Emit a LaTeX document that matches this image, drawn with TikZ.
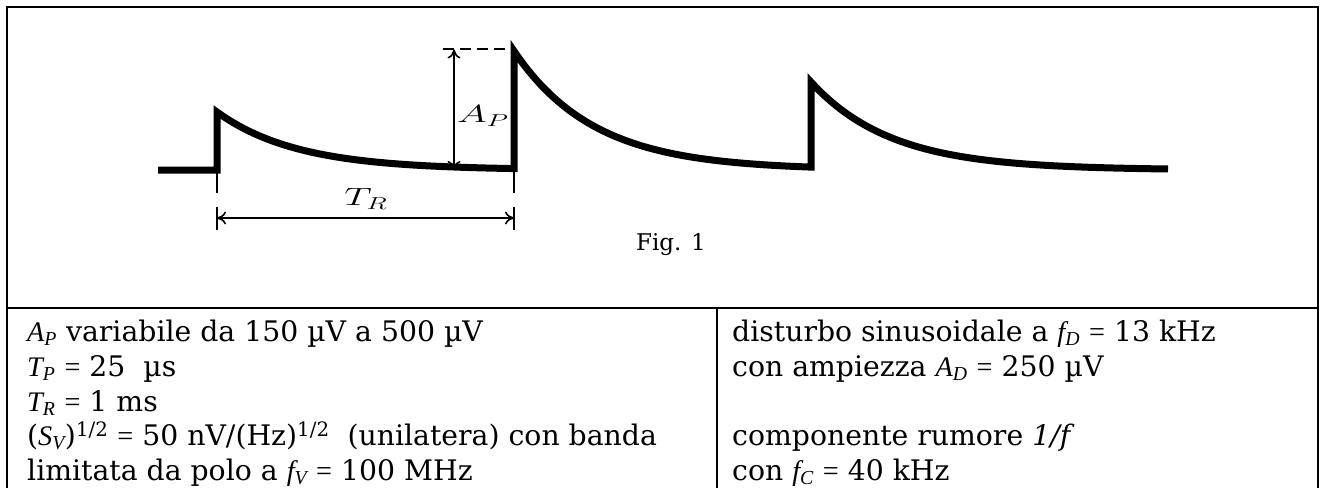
\documentclass[tikz,border=0pt]{standalone}
\usepackage{fontspec}
\setmainfont{DejaVu Serif}
\newfontfamily\varfont{Liberation Serif}
\usetikzlibrary{arrows.meta}
\newcommand\myvar[2]{{\varfont\itshape #1}\textsubscript{\varfont\itshape #2}}
\newcommand\myeq{{\varfont =}}
\begin{document}
\begin{tikzpicture}[x=1pt,y=-1pt,
  frame/.style={line width=2pt},
  wave/.style={line width=7pt, line join=miter},
  dim/.style={line width=1.6pt},
  dimarrow/.style={dim, {Computer Modern Rightarrow[length=9pt,width=13pt]}-{Computer Modern Rightarrow[length=9pt,width=13pt]}},
  txt/.style={anchor=base west, inner sep=0pt, font=\fontsize{28.3}{35}\selectfont},
  lbl/.style={inner sep=0pt, font=\fontsize{25}{30}\selectfont}]
\useasboundingbox (0,0) rectangle (1321,487);
\clip (0,0) rectangle (1321,487);
% frame
\draw[frame] (6.5,500) -- (6.5,7) -- (1317.5,7) -- (1317.5,500);
\draw[frame] (6.5,308) -- (1317.5,308);
\draw[frame] (716.5,308) -- (716.5,500);
% waveform
\coordinate (s0) at (158,170);
\coordinate (b1) at (217,170);
\coordinate (p1) at (217,112);
\coordinate (p2) at (514,51);
\coordinate (p3) at (811,82);
\draw[wave] (s0) -- (b1) -- (p1)
  -- plot[domain=217:514,samples=90] (\x,{170-58*exp(-(\x-217)/80)})
  -- (p2)
  -- plot[domain=514:811,samples=90] (\x,{170-119*exp(-(\x-514)/80)})
  -- (p3)
  -- plot[domain=811:1168,samples=100] (\x,{170-88*exp(-(\x-811)/80)});
% dashed top
\coordinate (d0) at (443,49.5);
\coordinate (d1) at (514,49.5);
\draw[line width=2pt, dash pattern=on 11pt off 6pt] (d0) -- (d1);
% A_P arrow
\coordinate (a0) at (454,49.5);
\coordinate (a1) at (454,170);
\draw[dimarrow] (a0) -- (a1);
\node[lbl] (AP) at (483,116) {\scalebox{1.62}[1]{$A_P$}};
% T_R ticks and arrow
\coordinate (t1a) at (217,170); \coordinate (t1b) at (217,193);
\coordinate (t1c) at (217,207); \coordinate (t1d) at (217,230);
\coordinate (t2a) at (514,170); \coordinate (t2b) at (514,193);
\coordinate (t2c) at (514,207); \coordinate (t2d) at (514,230);
\draw[dim] (t1a) -- (t1b) (t1c) -- (t1d) (t2a) -- (t2b) (t2c) -- (t2d);
\coordinate (r0) at (217,218);
\coordinate (r1) at (514,218);
\draw[dimarrow] (r0) -- (r1);
\node[lbl] (TR) at (366,199) {\scalebox{1.55}[1]{$T_R$}};
\node[lbl, font=\fontsize{23}{28}\selectfont] (fig) at (671,245) {Fig. 1};
% left column
\node[txt] (l1) at (27,341) {\myvar{A}{P} variabile da 150 µV a 500 µV};
\node[txt] (l2) at (27,376) {\myvar{T}{P} \myeq{} 25 \ µs};
\node[txt] (l3) at (27,411) {\myvar{T}{R} \myeq{} 1 ms};
\node[txt] (l4) at (27,445.5) {({\varfont\itshape S}\textsubscript{\varfont\itshape V})\textsuperscript{1/2} \myeq{} 50 nV/(Hz)\textsuperscript{1/2} \ (unilatera) con banda};
\node[txt] (l5) at (27,480) {limitata da polo a \myvar{f}{V} \myeq{} 100 MHz};
% right column
\node[txt] (r1t) at (732,341) {disturbo sinusoidale a \myvar{f}{D} \myeq{} 13 kHz};
\node[txt] (r2t) at (732,376) {con ampiezza \myvar{A}{D} \myeq{} 250 µV};
\node[txt] (r3t) at (732,445.5) {componente rumore {\itshape 1/f}};
\node[txt] (r4t) at (732,480) {con \myvar{f}{C} \myeq{} 40 kHz};
\end{tikzpicture}
\end{document}
